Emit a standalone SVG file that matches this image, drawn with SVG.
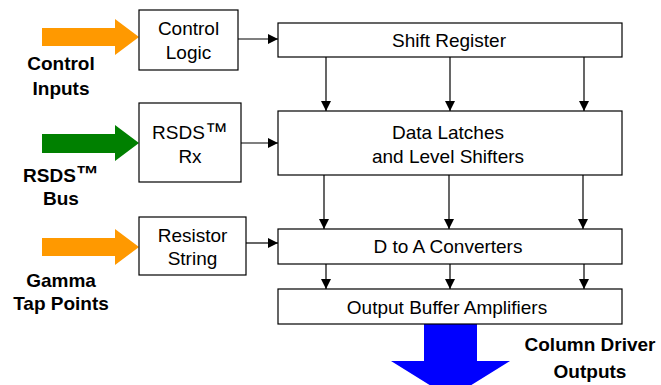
<svg xmlns="http://www.w3.org/2000/svg" width="661" height="385" viewBox="0 0 661 385">
<style>
.box{fill:#fff;stroke:#000;stroke-width:1.2}
.t{font-family:"Liberation Sans",Arial,sans-serif;font-size:19px;fill:#000;text-anchor:middle}
.b{font-family:"Liberation Sans",Arial,sans-serif;font-size:19px;font-weight:bold;fill:#000;text-anchor:middle}
.tm{font-size:23px}
.c{stroke:#000;stroke-width:1.2;fill:none;marker-end:url(#ah)}
</style>
<defs>
<marker id="ah" markerWidth="10" markerHeight="10" refX="10" refY="5" orient="auto" markerUnits="userSpaceOnUse">
<path d="M0,0 L10,5 L0,10 Z" fill="#000"/>
</marker>
</defs>
<rect width="661" height="385" fill="#fff"/>
<g id="inputs">
<polygon points="42,28 115,28 115,19 139,37 115,55 115,46 42,46" fill="#FF9900"/>
<polygon points="42,134 115,134 115,125 139,143 115,161 115,153 42,153" fill="#008000"/>
<polygon points="42,238 115,238 115,229 139,247 115,265 115,256 42,256" fill="#FF9900"/>
<polygon points="424,324 477,324 477,361 510,361 450.5,398 391,361 424,361" fill="#0000FF"/>
</g>
<g id="labels">
<text class="b" x="61" y="70">Control</text>
<text class="b" x="61" y="95">Inputs</text>
<text class="b" x="61" y="182">RSDS<tspan class="tm">™</tspan></text>
<text class="b" x="61" y="205">Bus</text>
<text class="b" x="61" y="287">Gamma</text>
<text class="b" x="61" y="310">Tap Points</text>
<text class="b" x="590" y="351">Column Driver</text>
<text class="b" x="590" y="378">Outputs</text>
</g>
<g id="control-logic">
<rect class="box" x="139" y="10" width="99" height="60"/>
<text class="t" x="188.5" y="35">Control</text>
<text class="t" x="188.5" y="59">Logic</text>
</g>
<g id="rsds-rx">
<rect class="box" x="139" y="103" width="102" height="79"/>
<text class="t" x="190" y="139">RSDS<tspan class="tm">™</tspan></text>
<text class="t" x="190" y="163">Rx</text>
</g>
<g id="resistor-string">
<rect class="box" x="139" y="217" width="107" height="58"/>
<text class="t" x="192.5" y="242">Resistor</text>
<text class="t" x="192.5" y="265">String</text>
</g>
<g id="shift-register">
<rect class="box" x="278" y="23" width="344" height="34"/>
<text class="t" x="449" y="47">Shift Register</text>
</g>
<g id="data-latches">
<rect class="box" x="278" y="111" width="344" height="64"/>
<text class="t" x="448" y="139">Data Latches</text>
<text class="t" x="448" y="163">and Level Shifters</text>
</g>
<g id="dac">
<rect class="box" x="278" y="229" width="344" height="35"/>
<text class="t" x="448" y="253">D to A Converters</text>
</g>
<g id="output-buffer">
<rect class="box" x="278" y="289" width="344" height="35"/>
<text class="t" x="447" y="314">Output Buffer Amplifiers</text>
</g>
<g id="connectors">
<line class="c" x1="238" y1="39" x2="278" y2="39"/>
<line class="c" x1="241" y1="143" x2="278" y2="143"/>
<line class="c" x1="246" y1="243" x2="278" y2="243"/>
<line class="c" x1="326" y1="57" x2="326" y2="111"/>
<line class="c" x1="450" y1="57" x2="450" y2="111"/>
<line class="c" x1="584" y1="57" x2="584" y2="111"/>
<line class="c" x1="324" y1="175" x2="324" y2="229"/>
<line class="c" x1="449" y1="175" x2="449" y2="229"/>
<line class="c" x1="583" y1="175" x2="583" y2="229"/>
<line class="c" x1="326" y1="264" x2="326" y2="289"/>
<line class="c" x1="450" y1="264" x2="450" y2="289"/>
<line class="c" x1="584" y1="264" x2="584" y2="289"/>
</g>
</svg>
